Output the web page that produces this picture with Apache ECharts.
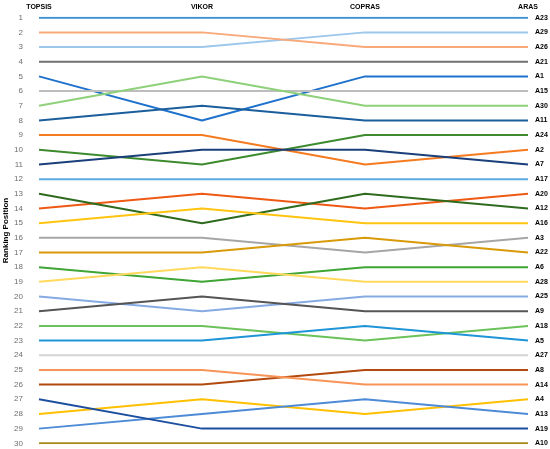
<!DOCTYPE html>
<html>
<head>
<meta charset="utf-8">
<script src="https://cdn.jsdelivr.net/npm/echarts@6/dist/echarts.min.js"></script>
<style>
  html, body { margin: 0; padding: 0; background: #fff; }
  #chart { width: 550px; height: 449px; }
</style>
</head>
<body>
<div id="chart"></div>
<script>
// methods on the x axis
var methods = ["TOPSIS", "VIKOR", "COPRAS", "ARAS"];
// alternatives, listed in ARAS order
var alternatives = ["A23", "A29", "A26", "A21", "A1", "A15", "A30", "A11", "A24", "A2",
  "A7", "A17", "A20", "A12", "A16", "A3", "A22", "A6", "A28", "A25",
  "A9", "A18", "A5", "A27", "A8", "A14", "A4", "A13", "A19", "A10"];
// rank of each alternative under each method
var topsisRank = [1, 3, 2, 4, 5, 6, 7, 8, 10, 9, 11, 12, 14, 13, 15, 16, 17, 18, 19, 20, 21, 22, 23, 24, 26, 25, 28, 29, 27, 30];
var vikorRank  = [1, 3, 2, 4, 8, 6, 5, 7, 11, 9, 10, 12, 13, 15, 14, 16, 17, 19, 18, 21, 20, 22, 23, 24, 26, 25, 27, 28, 29, 30];
var coprasRank = [1, 2, 3, 4, 5, 6, 7, 8, 9, 11, 10, 12, 14, 13, 15, 17, 16, 18, 19, 20, 21, 23, 22, 24, 25, 26, 28, 27, 29, 30];
var arasRank   = [1, 2, 3, 4, 5, 6, 7, 8, 9, 10, 11, 12, 13, 14, 15, 16, 17, 18, 19, 20, 21, 22, 23, 24, 25, 26, 27, 28, 29, 30];
// y axis ticks
var rankTicks = [1, 30];

var lineColors = ["#3a8fd4", "#9dc8ec", "#f8a97a", "#707070", "#1f72cc", "#bdbdbd", "#8fd07a", "#1b5e9c", "#3d8b2e", "#f47b20",
  "#1a3f7a", "#5baae3", "#ee5a14", "#2f6b1f", "#ffc410", "#a6a6a6", "#d99a0a", "#3fa535", "#ffd95c", "#86abe3",
  "#555555", "#6cc25a", "#1e95d6", "#d4d4d4", "#b24a0f", "#f89458", "#ffc000", "#4e8bd6", "#1d4f9e", "#a88a1c"];

var chart = echarts.init(document.getElementById("chart"));

var series = [];
for (var i = 0; i < alternatives.length; i++) {
  series.push({
    name: alternatives[i],
    type: "line",
    symbol: "none",
    silent: true,
    data: [topsisRank[i], vikorRank[i], coprasRank[i], arasRank[i]],
    lineStyle: { width: 2, color: lineColors[i] },
    itemStyle: { color: lineColors[i] },
    endLabel: {
      show: true,
      formatter: "{a}",
      distance: 7,
      color: "#000",
      fontWeight: "bold",
      fontSize: 7,
      fontFamily: "Liberation Sans"
    }
  });
}

var option = {
  animation: false,
  grid: { left: 39, right: 22, top: 17.7, bottom: 5.7, containLabel: false, outerBoundsMode: "none" },
  xAxis: {
    type: "category",
    position: "top",
    boundaryGap: false,
    data: methods,
    axisLine: { show: false },
    axisTick: { show: false },
    splitLine: { show: false },
    axisLabel: {
      margin: 7,
      color: "#000",
      fontWeight: "bold",
      fontSize: 7,
      fontFamily: "Liberation Sans"
    }
  },
  yAxis: {
    type: "value",
    inverse: true,
    min: rankTicks[0],
    max: rankTicks[1],
    interval: 1,
    name: "Ranking Position",
    nameLocation: "middle",
    nameGap: 29,
    nameMoveOverlap: false,
    nameTextStyle: {
      color: "#000",
      fontWeight: "bold",
      fontSize: 8,
      fontFamily: "Liberation Sans"
    },
    axisLine: { show: false },
    axisTick: { show: false },
    splitLine: { show: false },
    axisLabel: {
      margin: 16,
      color: "#6e6e6e",
      fontSize: 8,
      fontFamily: "Liberation Sans"
    }
  },
  series: series
};

chart.setOption(option);
</script>
</body>
</html>
